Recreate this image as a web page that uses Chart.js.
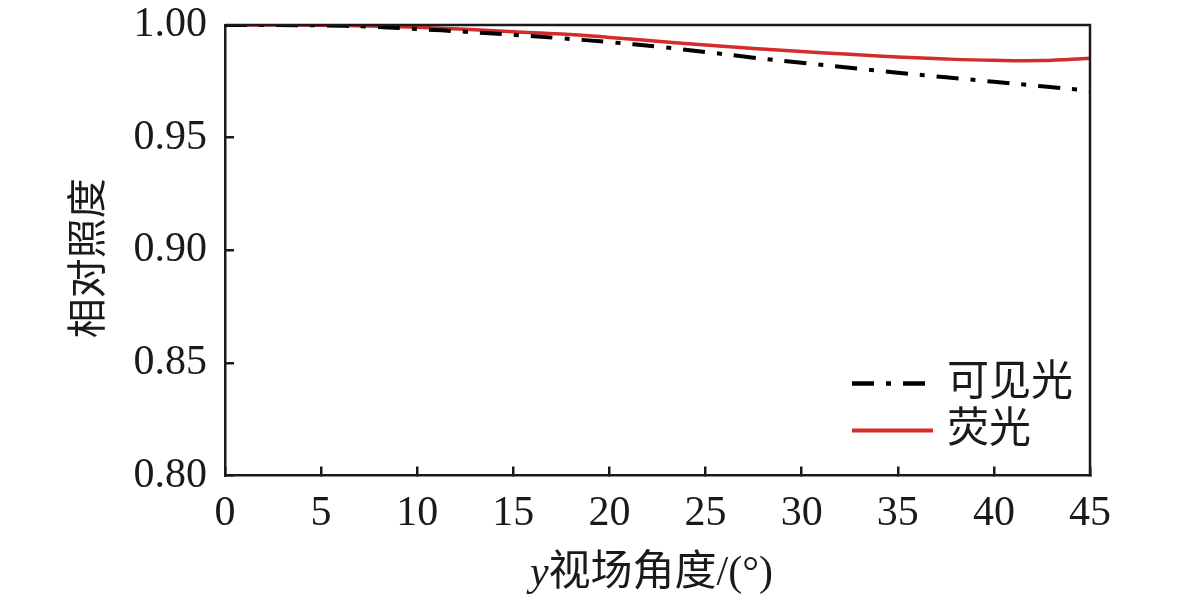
<!DOCTYPE html>
<html>
<head>
<meta charset="utf-8">
<script src="https://cdn.jsdelivr.net/npm/chart.js@4.4.1/dist/chart.umd.min.js"></script>
<style>
  html, body { margin: 0; padding: 0; background: #fff; }
  #wrap { width: 1181px; height: 601px; }
</style>
</head>
<body>
<div id="wrap"><canvas id="chart"></canvas></div>
<script>
// field angle (deg) and relative illuminance
const angles = [0, 2.5, 5, 7.5, 10, 12.5, 15, 17.5, 20, 22.5, 25, 27.5, 30, 32.5, 35, 37.5, 40, 42.5, 45];
const visible = [1.0000, 1.0000, 0.9998, 0.9993, 0.9982, 0.9970, 0.9956, 0.9941, 0.9924, 0.9904, 0.9880, 0.9855, 0.9832, 0.9810, 0.9788, 0.9768, 0.9748, 0.9728, 0.9708];
const fluor = [1.0000, 1.0000, 0.9999, 0.9996, 0.9990, 0.9981, 0.9970, 0.9960, 0.9945, 0.9928, 0.9911, 0.9896, 0.9882, 0.9870, 0.9858, 0.9849, 0.9843, 0.9842, 0.9852];
const seriesNames = ['可见光', '荧光'];
const xTicks = [0, 5, 10, 15, 20, 25, 30, 35, 40, 45];
const yTicks = [0.80, 0.85, 0.90, 0.95, 1.00];

const FONT = '"Liberation Serif", "Noto Sans CJK SC", serif';
const INK = '#1a1a1a';

const frameAndText = {
  id: 'frameAndText',
  afterDraw(chart) {
    const { ctx, chartArea: a } = chart;
    ctx.save();
    // top and right sides of the box
    ctx.strokeStyle = INK;
    ctx.lineWidth = 2.5;
    ctx.beginPath();
    ctx.moveTo(a.left, a.top);
    ctx.lineTo(a.right, a.top);
    ctx.lineTo(a.right, a.bottom);
    ctx.stroke();

    // legend
    chart.data.datasets.forEach((ds, i) => {
      const y = a.bottom - 92 + i * 47;
      ctx.setLineDash(ds.borderDash || []);
      ctx.strokeStyle = ds.borderColor;
      ctx.lineWidth = ds.borderWidth + 0.5;
      ctx.beginPath();
      ctx.moveTo(a.right - 238, y);
      ctx.lineTo(a.right - 157, y);
      ctx.stroke();
      ctx.setLineDash([]);
      ctx.fillStyle = INK;
      ctx.font = '42px ' + FONT;
      ctx.textAlign = 'left';
      ctx.textBaseline = 'middle';
      ctx.fillText(ds.label, a.right - 143, y);
    });

    // y axis title
    ctx.save();
    ctx.translate(90, (a.top + a.bottom) / 2 + 8);
    ctx.rotate(-Math.PI / 2);
    ctx.font = '40px ' + FONT;
    ctx.textAlign = 'center';
    ctx.textBaseline = 'middle';
    ctx.fillText('相对照度', 0, 0);
    ctx.restore();

    // x axis title, italic y
    const it = 'italic 42px ' + FONT, up = '42px ' + FONT;
    const rest = '视场角度/(°)';
    ctx.font = it;
    const w1 = ctx.measureText('y').width;
    ctx.font = up;
    const w2 = ctx.measureText(rest).width;
    const x = (a.left + a.right) / 2 - (w1 + w2) / 2 - 6;
    const ty = 574;
    ctx.textAlign = 'left';
    ctx.textBaseline = 'middle';
    ctx.font = it;
    ctx.fillText('y', x, ty);
    ctx.font = up;
    ctx.fillText(rest, x + w1, ty);
    ctx.restore();
  }
};

const ctx = document.getElementById('chart').getContext('2d');
new Chart(ctx, {
  type: 'line',
  data: {
    datasets: [
      {
        label: seriesNames[0],
        data: angles.map((a, i) => ({ x: a, y: visible[i] })),
        borderColor: '#000',
        borderWidth: 4,
        borderDash: [22, 12, 5, 12],
        pointRadius: 0,
        tension: 0.4,
        fill: false
      },
      {
        label: seriesNames[1],
        data: angles.map((a, i) => ({ x: a, y: fluor[i] })),
        borderColor: '#d42b2b',
        borderWidth: 3.5,
        pointRadius: 0,
        tension: 0.4,
        fill: false
      }
    ]
  },
  options: {
    responsive: true,
    maintainAspectRatio: false,
    animation: false,
    devicePixelRatio: 1,
    layout: { padding: { left: 0, right: 91, top: 25, bottom: 0 } },
    plugins: { legend: { display: false }, tooltip: { enabled: false } },
    scales: {
      x: {
        type: 'linear',
        min: 0,
        max: 45,
        afterBuildTicks: s => { s.ticks = xTicks.map(v => ({ value: v })); },
        afterFit: s => { s.height = 125.5; s.paddingLeft = 0; s.paddingRight = 0; },
        border: { display: true, color: INK, width: 2.5 },
        grid: { drawOnChartArea: false, drawTicks: true, tickLength: -9, color: INK, lineWidth: 2.5 },
        ticks: { color: INK, font: { family: FONT, size: 42 }, padding: 22, maxRotation: 0 }
      },
      y: {
        min: 0.8,
        max: 1.0,
        afterBuildTicks: s => { s.ticks = yTicks.map(v => ({ value: v })); },
        afterFit: s => { s.width = 225; s.paddingTop = 0; s.paddingBottom = 0; },
        border: { display: true, color: INK, width: 2.5 },
        grid: { drawOnChartArea: false, drawTicks: true, tickLength: -9, color: INK, lineWidth: 2.5 },
        ticks: { color: INK, font: { family: FONT, size: 42 }, padding: 27, callback: v => v.toFixed(2) }
      }
    }
  },
  plugins: [frameAndText]
});
</script>
</body>
</html>
